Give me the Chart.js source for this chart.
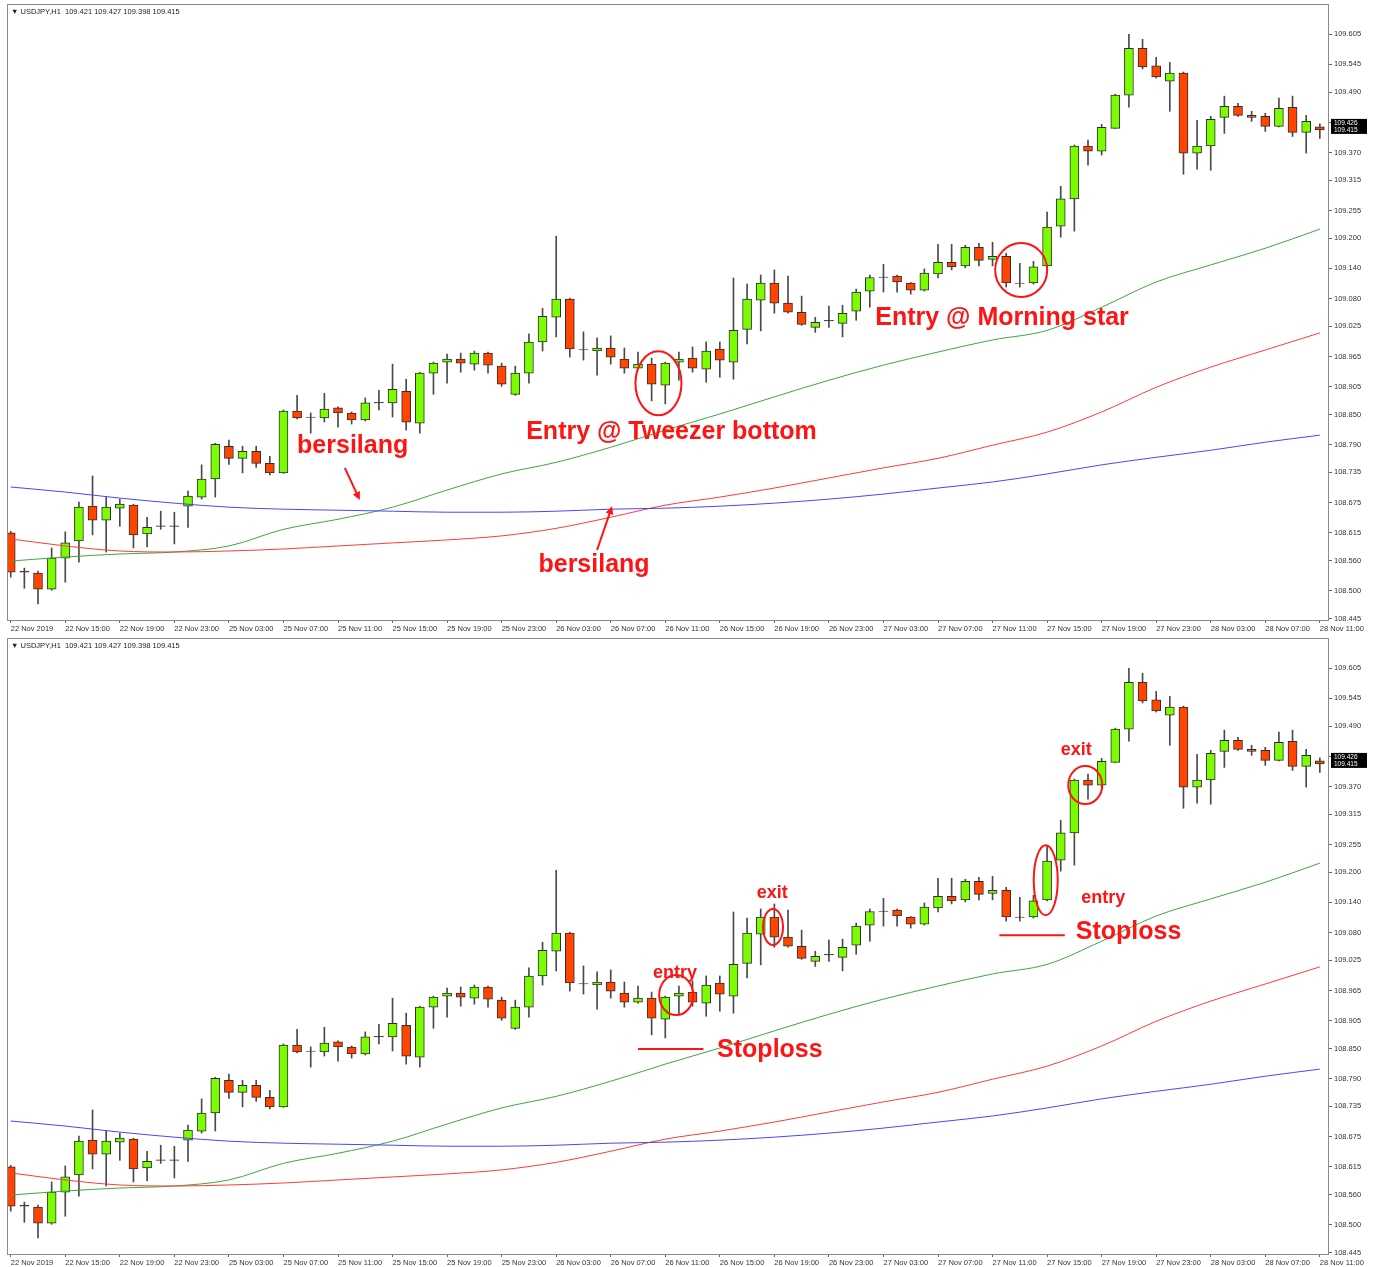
<!DOCTYPE html>
<html>
<head>
<meta charset="utf-8">
<script src="https://cdn.jsdelivr.net/npm/chart.js@4.4.0/dist/chart.umd.min.js"></script>
<style>
    html, body { margin: 0; padding: 0; background: #fff; }
    #wrap { position: relative; width: 1381px; height: 1267px; }
    .panel { position: absolute; left: 0; width: 1381px; height: 633px; }
    #topPanel { top: 0; }
    #bottomPanel { top: 634px; }
</style>
</head>
<body>
<div id="wrap">
    <div class="panel" id="topPanel"><canvas id="topChart"></canvas></div>
    <div class="panel" id="bottomPanel"><canvas id="bottomChart"></canvas></div>
</div>
<script>
/**
 * USDJPY H1 - two MT4 style candle panels with moving averages
 */

// Bar-by-bar OHLC (97 hourly bars)
const opens = [
    108.615, 108.539, 108.535, 108.503, 108.565, 108.599, 108.668, 108.640, 108.664, 108.670,
    108.613, 108.628, 108.629, 108.668, 108.686, 108.722, 108.787, 108.763, 108.777, 108.753,
    108.734, 108.857, 108.845, 108.843, 108.863, 108.853, 108.839, 108.874, 108.873, 108.896,
    108.833, 108.932, 108.954, 108.960, 108.950, 108.972, 108.946, 108.890, 108.932, 108.994,
    109.043, 109.079, 108.979, 108.976, 108.982, 108.960, 108.942, 108.950, 108.908, 108.954,
    108.962, 108.940, 108.980, 108.954, 109.019, 109.077, 109.111, 109.071, 109.053, 109.023,
    109.037, 109.031, 109.055, 109.095, 109.123, 109.125, 109.111, 109.097, 109.129, 109.152,
    109.145, 109.182, 109.158, 109.164, 109.111, 109.111, 109.145, 109.224, 109.278, 109.383,
    109.373, 109.418, 109.484, 109.577, 109.542, 109.512, 109.528, 109.369, 109.383, 109.440,
    109.462, 109.444, 109.442, 109.422, 109.460, 109.410, 109.421
];
const highs = [
    108.618, 108.545, 108.539, 108.585, 108.617, 108.676, 108.728, 108.686, 108.682, 108.672,
    108.646, 108.658, 108.656, 108.698, 108.750, 108.793, 108.799, 108.787, 108.787, 108.767,
    108.859, 108.888, 108.853, 108.892, 108.865, 108.855, 108.883, 108.898, 108.950, 108.920,
    108.934, 108.954, 108.970, 108.972, 108.976, 108.974, 108.952, 108.946, 109.010, 109.061,
    109.204, 109.081, 109.014, 109.002, 109.006, 108.982, 108.974, 108.962, 108.954, 108.974,
    108.984, 108.994, 108.994, 109.121, 109.109, 109.127, 109.137, 109.125, 109.085, 109.043,
    109.065, 109.067, 109.099, 109.127, 109.148, 109.127, 109.112, 109.139, 109.188, 109.188,
    109.186, 109.190, 109.192, 109.170, 109.150, 109.154, 109.252, 109.303, 109.385, 109.395,
    109.426, 109.486, 109.605, 109.595, 109.559, 109.549, 109.530, 109.434, 109.442, 109.482,
    109.468, 109.452, 109.448, 109.478, 109.482, 109.444, 109.427
];
const lows = [
    108.527, 108.505, 108.474, 108.501, 108.517, 108.557, 108.611, 108.577, 108.628, 108.585,
    108.587, 108.622, 108.593, 108.626, 108.682, 108.686, 108.751, 108.734, 108.745, 108.730,
    108.733, 108.841, 108.813, 108.835, 108.825, 108.831, 108.837, 108.859, 108.845, 108.819,
    108.813, 108.890, 108.912, 108.934, 108.938, 108.932, 108.906, 108.888, 108.912, 108.976,
    109.004, 108.964, 108.958, 108.928, 108.950, 108.932, 108.940, 108.877, 108.871, 108.918,
    108.934, 108.914, 108.924, 108.920, 108.990, 109.016, 109.051, 109.051, 109.027, 109.013,
    109.023, 109.004, 109.037, 109.063, 109.093, 109.093, 109.089, 109.095, 109.121, 109.137,
    109.141, 109.145, 109.145, 109.103, 109.103, 109.109, 109.143, 109.202, 109.214, 109.345,
    109.365, 109.418, 109.460, 109.536, 109.518, 109.452, 109.327, 109.337, 109.335, 109.408,
    109.442, 109.432, 109.412, 109.421, 109.402, 109.369, 109.398
];
const closes = [
    108.537, 108.537, 108.503, 108.565, 108.595, 108.666, 108.640, 108.666, 108.672, 108.611,
    108.626, 108.629, 108.628, 108.688, 108.722, 108.791, 108.763, 108.777, 108.753, 108.734,
    108.857, 108.843, 108.844, 108.861, 108.853, 108.839, 108.873, 108.873, 108.900, 108.835,
    108.932, 108.952, 108.960, 108.952, 108.972, 108.948, 108.910, 108.932, 108.994, 109.045,
    109.079, 108.980, 108.978, 108.982, 108.964, 108.942, 108.950, 108.910, 108.952, 108.960,
    108.942, 108.976, 108.958, 109.017, 109.079, 109.111, 109.071, 109.053, 109.029, 109.033,
    109.036, 109.051, 109.093, 109.122, 109.122, 109.113, 109.097, 109.131, 109.152, 109.143,
    109.182, 109.156, 109.164, 109.111, 109.110, 109.143, 109.222, 109.278, 109.383, 109.373,
    109.420, 109.484, 109.577, 109.540, 109.520, 109.528, 109.369, 109.383, 109.436, 109.462,
    109.444, 109.440, 109.422, 109.458, 109.410, 109.432, 109.415
];

// Moving averages, read every 4th bar
const maBars = [0, 4, 8, 12, 16, 20, 24, 28, 32, 36, 40, 44, 48, 52, 56, 60, 64, 68, 72, 76, 80, 84, 88, 92, 96];
const maGreen = [
    108.559, 108.567, 108.573, 108.577, 108.589, 108.622, 108.642, 108.666, 108.700, 108.732,
    108.755, 108.785, 108.819, 108.851, 108.885, 108.918, 108.948, 108.974, 108.998, 109.017,
    109.063, 109.113, 109.147, 109.180, 109.218
];
const maRed = [
    108.603, 108.589, 108.579, 108.577, 108.579, 108.583, 108.589, 108.595, 108.601, 108.609,
    108.624, 108.646, 108.670, 108.686, 108.704, 108.724, 108.744, 108.763, 108.789, 108.815,
    108.855, 108.904, 108.944, 108.978, 109.012
];
const maBlue = [
    108.706, 108.696, 108.684, 108.674, 108.666, 108.662, 108.660, 108.658, 108.656, 108.656,
    108.658, 108.662, 108.664, 108.668, 108.674, 108.682, 108.692, 108.704, 108.716, 108.732,
    108.750, 108.765, 108.779, 108.795, 108.809
];

// Axis labels
const xTickLabels = [
    '22 Nov 2019', '22 Nov 15:00', '22 Nov 19:00', '22 Nov 23:00', '25 Nov 03:00', '25 Nov 07:00',
    '25 Nov 11:00', '25 Nov 15:00', '25 Nov 19:00', '25 Nov 23:00', '26 Nov 03:00', '26 Nov 07:00',
    '26 Nov 11:00', '26 Nov 15:00', '26 Nov 19:00', '26 Nov 23:00', '27 Nov 03:00', '27 Nov 07:00',
    '27 Nov 11:00', '27 Nov 15:00', '27 Nov 19:00', '27 Nov 23:00', '28 Nov 03:00', '28 Nov 07:00',
    '28 Nov 11:00'
];
const yTickLabels = [
    108.445, 108.500, 108.560, 108.615, 108.675, 108.735, 108.790, 108.850, 108.905, 108.965,
    109.025, 109.080, 109.140, 109.200, 109.255, 109.315, 109.370, 109.430, 109.490, 109.545, 109.605
];

const headerText = '\u25BC USDJPY,H1  109.421 109.427 109.398 109.415';
const priceBoxText = ['109.426', '109.415'];

// Annotations (bar index / price)
const topMarks = [
    { type: 'text', x: 21.0, y: 108.787, text: 'bersilang', size: 25 },
    { type: 'arrow', x1: 24.5, y1: 108.744, x2: 25.6, y2: 108.680 },
    { type: 'text', x: 37.8, y: 108.815, text: 'Entry @ Tweezer bottom', size: 25 },
    { type: 'text', x: 63.4, y: 109.041, text: 'Entry @ Morning star', size: 25 },
    { type: 'text', x: 38.7, y: 108.551, text: 'bersilang', size: 25 },
    { type: 'arrow', x1: 43.0, y1: 108.581, x2: 44.1, y2: 108.668 },
    { type: 'ellipse', x: 47.5, y: 108.912, rx: 23, ry: 32 },
    { type: 'ellipse', x: 74.1, y: 109.137, rx: 26, ry: 27 }
];
const bottomMarks = [
    { type: 'text', x: 47.1, y: 108.999, text: 'entry', size: 18 },
    { type: 'ellipse', x: 48.8, y: 108.956, rx: 17, ry: 20 },
    { type: 'line', x1: 46.0, x2: 50.8, y: 108.849 },
    { type: 'text', x: 51.8, y: 108.847, text: 'Stoploss', size: 25 },
    { type: 'text', x: 54.7, y: 109.158, text: 'exit', size: 18 },
    { type: 'ellipse', x: 55.9, y: 109.091, rx: 10, ry: 18 },
    { type: 'text', x: 77.0, y: 109.442, text: 'exit', size: 18 },
    { type: 'ellipse', x: 78.8, y: 109.373, rx: 17, ry: 19 },
    { type: 'ellipse', x: 75.9, y: 109.184, rx: 12, ry: 35 },
    { type: 'text', x: 78.5, y: 109.148, text: 'entry', size: 18 },
    { type: 'line', x1: 72.5, x2: 77.3, y: 109.075 },
    { type: 'text', x: 78.1, y: 109.081, text: 'Stoploss', size: 25 }
];

const UP_COLOR = '#7cfc00';
const DOWN_COLOR = '#ff4500';
const DOJI_COLOR = '#2f2f2f';
const MARK_RED = '#ff1414';
const AXIS_FONT = { family: '"Liberation Sans", Arial, sans-serif', size: 7.5 };

const bodyData = opens.map((o, i) => ({ x: i, y: [o, closes[i]] }));
const wickData = opens.map((o, i) => ({ x: i, y: [lows[i], highs[i]] }));
const bodyColors = opens.map((o, i) => {
    if (Math.abs(closes[i] - o) < 0.0025) return DOJI_COLOR;
    return closes[i] >= o ? UP_COLOR : DOWN_COLOR;
});

function maPoints(values) {
    return values.map((v, k) => ({ x: maBars[k], y: v }));
}

const overlayPlugin = {
    id: 'overlay',
    afterDatasetsDraw(chart, args, opts) {
        const { ctx, scales: { x, y } } = chart;
        ctx.save();
        ctx.strokeStyle = MARK_RED;
        ctx.fillStyle = MARK_RED;
        ctx.lineWidth = 2;
        ctx.textAlign = 'left';
        ctx.textBaseline = 'middle';
        (opts.marks || []).forEach(m => {
            if (m.type === 'text') {
                ctx.font = 'bold ' + m.size + 'px "Liberation Sans", Arial, sans-serif';
                ctx.fillText(m.text, x.getPixelForValue(m.x), y.getPixelForValue(m.y));
            } else if (m.type === 'ellipse') {
                ctx.beginPath();
                ctx.ellipse(x.getPixelForValue(m.x), y.getPixelForValue(m.y), m.rx, m.ry, 0, 0, Math.PI * 2);
                ctx.stroke();
            } else if (m.type === 'line') {
                const py = y.getPixelForValue(m.y);
                ctx.beginPath();
                ctx.moveTo(x.getPixelForValue(m.x1), py);
                ctx.lineTo(x.getPixelForValue(m.x2), py);
                ctx.stroke();
            } else if (m.type === 'arrow') {
                const ax = x.getPixelForValue(m.x1), ay = y.getPixelForValue(m.y1);
                const bx = x.getPixelForValue(m.x2), by = y.getPixelForValue(m.y2);
                const ang = Math.atan2(by - ay, bx - ax);
                ctx.beginPath();
                ctx.moveTo(ax, ay);
                ctx.lineTo(bx - 5 * Math.cos(ang), by - 5 * Math.sin(ang));
                ctx.stroke();
                ctx.beginPath();
                ctx.moveTo(bx, by);
                ctx.lineTo(bx - 9 * Math.cos(ang - 0.45), by - 9 * Math.sin(ang - 0.45));
                ctx.lineTo(bx - 9 * Math.cos(ang + 0.45), by - 9 * Math.sin(ang + 0.45));
                ctx.closePath();
                ctx.fill();
            }
        });
        ctx.restore();
    },
    afterDraw(chart) {
        const { ctx, chartArea, scales: { y } } = chart;
        ctx.save();
        // panel frame
        ctx.strokeStyle = '#8a8a8a';
        ctx.lineWidth = 1;
        ctx.strokeRect(chartArea.left - 0.5, chartArea.top - 0.5,
            chartArea.right - chartArea.left + 1, chartArea.bottom - chartArea.top + 1);
        // symbol header
        ctx.fillStyle = '#222';
        ctx.font = '7.5px "Liberation Sans", Arial, sans-serif';
        ctx.textBaseline = 'middle';
        ctx.textAlign = 'left';
        ctx.fillText(headerText, chartArea.left + 3, chartArea.top + 7);
        // current price box
        const py = y.getPixelForValue(closes[closes.length - 1]);
        ctx.fillStyle = '#000';
        ctx.fillRect(chartArea.right + 3, py - 11, 36, 15);
        ctx.fillStyle = '#fff';
        ctx.font = '6.5px "Liberation Sans", Arial, sans-serif';
        ctx.fillText(priceBoxText[0], chartArea.right + 6, py - 7);
        ctx.fillText(priceBoxText[1], chartArea.right + 6, py);
        ctx.restore();
    }
};

function buildChart(canvasId, marks) {
    return new Chart(document.getElementById(canvasId), {
        type: 'bar',
        data: {
            datasets: [{
                label: 'wick',
                data: wickData,
                backgroundColor: '#4a4a4a',
                barThickness: 1,
                grouped: false,
                order: 3
            }, {
                label: 'body',
                data: bodyData,
                backgroundColor: bodyColors,
                borderColor: '#2f2f2f',
                borderWidth: 1,
                borderSkipped: false,
                barThickness: 9,
                grouped: false,
                order: 2
            }, {
                type: 'line',
                label: 'MA blue',
                data: maPoints(maBlue),
                borderColor: '#4646ff',
                borderWidth: 1,
                pointRadius: 0,
                cubicInterpolationMode: 'monotone',
                order: 1
            }, {
                type: 'line',
                label: 'MA red',
                data: maPoints(maRed),
                borderColor: '#ff3a3a',
                borderWidth: 1,
                pointRadius: 0,
                cubicInterpolationMode: 'monotone',
                order: 1
            }, {
                type: 'line',
                label: 'MA green',
                data: maPoints(maGreen),
                borderColor: '#3da83d',
                borderWidth: 1,
                pointRadius: 0,
                cubicInterpolationMode: 'monotone',
                order: 1
            }]
        },
        options: {
            responsive: true,
            maintainAspectRatio: false,
            animation: false,
            events: [],
            layout: { padding: { left: 8, top: 5, right: 0, bottom: 0 } },
            scales: {
                x: {
                    type: 'linear',
                    min: -0.2,
                    max: 96.6,
                    offset: false,
                    afterBuildTicks: scale => {
                        scale.ticks = xTickLabels.map((_, k) => ({ value: k * 4 }));
                    },
                    afterFit: scale => {
                        scale.height = 13;
                        scale.paddingLeft = 0;
                        scale.paddingRight = 0;
                    },
                    ticks: {
                        autoSkip: false,
                        maxRotation: 0,
                        align: 'start',
                        padding: 1,
                        color: '#333',
                        font: AXIS_FONT,
                        callback: v => xTickLabels[Math.round(v / 4)]
                    },
                    grid: { drawOnChartArea: false, offset: false, tickLength: 3, color: '#666' },
                    border: { color: '#8a8a8a' }
                },
                y: {
                    type: 'linear',
                    position: 'right',
                    min: 108.442,
                    max: 109.663,
                    beginAtZero: false,
                    afterBuildTicks: scale => {
                        scale.ticks = yTickLabels.map(v => ({ value: v }));
                    },
                    afterFit: scale => {
                        scale.width = 53;
                        scale.paddingTop = 0;
                        scale.paddingBottom = 0;
                    },
                    ticks: {
                        padding: 2,
                        color: '#333',
                        font: AXIS_FONT,
                        callback: v => v.toFixed(3)
                    },
                    grid: { drawOnChartArea: false, tickLength: 4, color: '#666' },
                    border: { color: '#8a8a8a' }
                }
            },
            plugins: {
                legend: { display: false },
                tooltip: { enabled: false },
                overlay: { marks: marks }
            }
        },
        plugins: [overlayPlugin]
    });
}

document.addEventListener('DOMContentLoaded', function() {
    buildChart('topChart', topMarks);
    buildChart('bottomChart', bottomMarks);
});
</script>
</body>
</html>
